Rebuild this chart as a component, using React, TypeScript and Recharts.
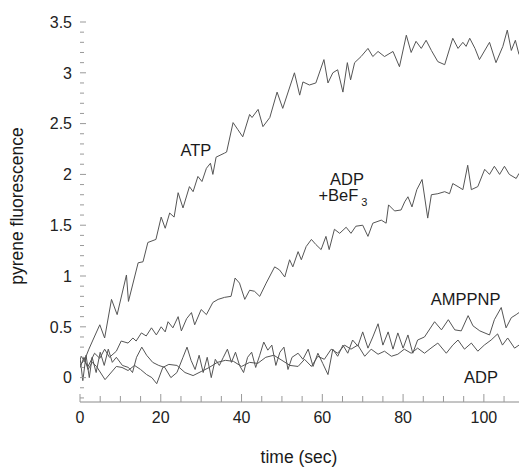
import React from "react";
import { LineChart, Line, XAxis, YAxis, ReferenceDot } from "recharts";

// readings taken off the trace: time (sec) and pyrene fluorescence
const atpTime = [0, 1.2, 2.2, 3.2, 4.9, 6.1, 7.8, 9.2, 11.5, 12.0, 14.4, 15.6, 16.8, 18.8, 20.1, 21.1, 22.2, 23.3, 24.3, 25.5, 27.1, 28.0, 29.2, 30.2, 31.3, 32.3, 32.9, 33.7, 35.8, 36.3, 37.9, 39.1, 40.3, 42.0, 42.6, 44.1, 45.3, 47.0, 48.8, 50.2, 53.1, 54.4, 55.2, 56.8, 58.4, 60.4, 61.4, 62.6, 63.8, 65.1, 66.2, 67.0, 68.0, 69.6, 71.3, 72.5, 73.8, 75.4, 77.5, 79.1, 80.8, 82.0, 83.2, 84.5, 85.7, 87.0, 88.6, 90.3, 92.3, 93.6, 94.8, 95.6, 96.5, 97.8, 98.9, 101.4, 103.0, 104.7, 105.8, 106.8, 107.8, 108.7];
const atpValue = [0.12, 0.18, 0.28, 0.37, 0.52, 0.39, 0.77, 0.62, 1.01, 0.75, 1.13, 1.14, 1.33, 1.36, 1.58, 1.47, 1.62, 1.58, 1.82, 1.67, 1.88, 1.83, 1.98, 1.93, 2.06, 2.11, 2.0, 2.17, 2.21, 2.22, 2.51, 2.44, 2.37, 2.59, 2.56, 2.64, 2.47, 2.56, 2.81, 2.65, 3.0, 2.78, 2.91, 2.88, 2.9, 3.13, 2.9, 3.0, 3.03, 2.81, 3.1, 2.93, 3.1, 3.16, 3.24, 3.16, 3.21, 3.16, 3.21, 3.06, 3.37, 3.2, 3.31, 3.24, 3.32, 3.22, 3.11, 3.08, 3.34, 3.24, 3.3, 3.26, 3.34, 3.24, 3.13, 3.3, 3.1, 3.26, 3.42, 3.22, 3.32, 3.18];

const befTime = [0, 0.3, 2.0, 3.6, 4.9, 6.1, 7.3, 9.0, 10.2, 11.9, 13.1, 13.9, 15.2, 16.4, 17.7, 18.9, 20.1, 21.1, 21.8, 23.0, 24.3, 25.1, 26.4, 27.6, 28.4, 30.0, 31.3, 32.9, 34.2, 35.8, 37.4, 38.4, 39.5, 40.8, 42.0, 43.2, 44.5, 46.1, 48.2, 49.4, 50.7, 51.9, 52.7, 54.0, 54.8, 56.0, 57.3, 58.4, 59.7, 60.9, 61.7, 63.0, 64.3, 65.9, 67.1, 68.3, 70.0, 71.3, 72.5, 74.6, 75.8, 76.4, 77.9, 79.5, 80.4, 81.2, 82.2, 83.4, 84.7, 86.1, 87.0, 88.6, 90.3, 91.5, 92.3, 93.6, 94.8, 96.0, 96.9, 98.5, 100.2, 101.4, 102.6, 103.9, 105.1, 106.3, 108.0, 108.7];
const befValue = [0.18, 0.21, 0.11, 0.24, 0.19, 0.28, 0.2, 0.26, 0.36, 0.34, 0.39, 0.36, 0.44, 0.41, 0.49, 0.42, 0.5, 0.45, 0.55, 0.49, 0.6, 0.46, 0.58, 0.64, 0.52, 0.67, 0.62, 0.74, 0.77, 0.79, 0.8, 0.98, 0.93, 0.77, 0.86, 0.85, 0.8, 0.93, 1.09, 1.06, 0.99, 1.16, 1.09, 1.24, 1.16, 1.29, 1.36, 1.31, 1.26, 1.39, 1.26, 1.46, 1.42, 1.48, 1.42, 1.49, 1.5, 1.39, 1.52, 1.55, 1.52, 1.7, 1.64, 1.65, 1.73, 1.78, 1.68, 1.85, 1.95, 1.57, 1.8, 1.81, 1.83, 1.81, 1.91, 1.88, 1.85, 2.09, 1.85, 1.88, 2.05, 2.0, 2.08, 2.0, 2.08, 2.0, 1.96, 2.01];

const amppnpTime = [0, 0.7, 1.5, 2.3, 3.0, 4.0, 5.0, 6.0, 7.0, 8.0, 9.0, 10.5, 12.0, 13.0, 14.0, 15.3, 16.5, 18.0, 19.5, 21.0, 22.5, 24.0, 25.5, 26.5, 27.5, 28.5, 29.5, 30.5, 31.5, 32.5, 33.5, 34.5, 35.5, 36.5, 37.5, 38.5, 39.5, 40.5, 41.5, 42.5, 43.5, 44.5, 45.5, 46.5, 47.5, 48.5, 49.5, 50.5, 51.5, 52.5, 54.0, 55.2, 56.5, 57.7, 58.9, 60.1, 61.4, 62.6, 63.8, 65.1, 66.3, 67.5, 68.8, 70.0, 71.3, 72.5, 73.8, 75.0, 76.3, 77.5, 78.7, 80.0, 81.2, 82.4, 83.6, 85.3, 87.8, 89.5, 91.2, 92.8, 94.4, 96.1, 97.3, 99.0, 101.4, 102.6, 104.3, 105.5, 106.8, 108.0, 108.7];
const amppnpValue = [0.2, -0.03, 0.22, 0.0, 0.2, 0.05, 0.25, 0.12, 0.28, 0.15, 0.2, 0.12, 0.1, 0.05, 0.2, 0.3, 0.22, 0.15, 0.12, 0.1, 0.0, 0.05, 0.2, 0.3, 0.17, 0.08, 0.22, 0.05, 0.2, 0.0, 0.18, 0.12, 0.2, 0.28, 0.15, 0.25, 0.12, 0.05, 0.2, 0.25, 0.1, 0.22, 0.35, 0.27, 0.32, 0.12, 0.25, 0.3, 0.08, 0.2, 0.24, 0.18, 0.28, 0.11, 0.24, 0.14, 0.03, 0.28, 0.21, 0.32, 0.24, 0.37, 0.31, 0.45, 0.29, 0.4, 0.53, 0.32, 0.45, 0.28, 0.44, 0.29, 0.42, 0.24, 0.37, 0.4, 0.55, 0.47, 0.57, 0.47, 0.46, 0.61, 0.51, 0.46, 0.42, 0.57, 0.69, 0.49, 0.59, 0.62, 0.64];

const adpTime = [0, 1.0, 2.0, 3.0, 4.1, 6.2, 9.0, 10.4, 11.9, 13.5, 15.0, 16.5, 17.8, 19.0, 20.5, 22.0, 24.0, 26.0, 28.0, 30.0, 32.0, 34.0, 36.0, 38.0, 40.0, 42.0, 44.0, 46.0, 48.0, 50.0, 52.0, 54.0, 55.6, 57.3, 58.9, 60.5, 62.2, 63.8, 65.5, 67.1, 68.8, 70.5, 72.1, 73.8, 75.4, 77.1, 78.7, 80.3, 82.0, 83.6, 85.3, 86.9, 88.6, 90.7, 92.3, 93.6, 95.2, 96.9, 98.5, 100.1, 101.8, 103.4, 104.6, 105.9, 107.6, 108.7];
const adpValue = [0.1, 0.2, 0.08, 0.15, 0.11, -0.02, 0.11, 0.1, 0.07, 0.12, 0.08, 0.03, 0.0, -0.06, 0.1, 0.13, 0.12, 0.05, 0.02, 0.06, 0.1, 0.15, 0.17, 0.16, 0.11, 0.15, 0.14, 0.2, 0.22, 0.17, 0.12, 0.11, 0.18, 0.11, 0.21, 0.18, 0.28, 0.24, 0.32, 0.28, 0.32, 0.21, 0.28, 0.23, 0.26, 0.21, 0.23, 0.28, 0.24, 0.29, 0.24, 0.29, 0.34, 0.24, 0.32, 0.37, 0.28, 0.34, 0.26, 0.32, 0.37, 0.43, 0.32, 0.39, 0.29, 0.32];

const xTicks = [0, 5, 10, 15, 20, 25, 30, 35, 40, 45, 50, 55, 60, 65, 70, 75, 80, 85, 90, 95, 100, 105];
const xLabels = [0, 20, 40, 60, 80, 100];
const yLabels = [0, 0.5, 1, 1.5, 2, 2.5, 3, 3.5];
const yTicks = Array.from({ length: 38 }, (_, i) => Math.round((i - 2) * 10) / 100 * 10 / 10);

const FONT = '"Liberation Sans", Arial, Helvetica, sans-serif';
const LINE = "#555";
const TICK = "#999";

const series = (t: number[], v: number[]) =>
  t.slice(0, Math.min(t.length, v.length)).map((time, i) => ({ time, value: v[i] }));

const isLabelY = (v: number) => yLabels.some((l) => Math.abs(l - v) < 1e-6);

function LeftTick({ x, y, payload }: any) {
  const major = isLabelY(payload.value);
  return (
    <g>
      <line x1={x + 8} x2={x + 8 + (major ? 6 : 4)} y1={y} y2={y} stroke={TICK} />
      {major && (
        <text x={x} y={y} dy="0.36em" textAnchor="end" fontSize={16} fill="#222" fontFamily={FONT}>
          {String(payload.value)}
        </text>
      )}
    </g>
  );
}

function RightTick({ x, y, payload }: any) {
  const major = isLabelY(payload.value);
  return <line x1={x - (major ? 6 : 4)} x2={x} y1={y} y2={y} stroke="#c8c8c8" />;
}

function BottomTick({ x, y, payload }: any) {
  const major = xLabels.includes(payload.value);
  return (
    <g>
      <line x1={x} x2={x} y1={y} y2={y - (major ? 8 : 6)} stroke={TICK} />
      {major && (
        <text x={x} y={y + 21} textAnchor="middle" fontSize={16} fill="#222" fontFamily={FONT}>
          {payload.value}
        </text>
      )}
    </g>
  );
}

function TopTick({ x, y }: any) {
  return <line x1={x} x2={x} y1={y} y2={y + 6} stroke="#c8c8c8" />;
}

const note = (text: string) => (p: any) => (
  <text x={p.cx} y={p.cy} dy="0.36em" textAnchor="middle" fontSize={16.5} fill="#1a1a1a" fontFamily={FONT}>
    {text}
  </text>
);

const befNote = (p: any) => (
  <text x={p.cx} y={p.cy} textAnchor="middle" fontSize={16.5} fill="#1a1a1a" fontFamily={FONT}>
    <tspan x={p.cx} dy="-0.1em">ADP</tspan>
    <tspan x={p.cx - 4} dy="1.0em">+BeF</tspan>
    <tspan dx={3} dy="0.4em" fontSize={11}>3</tspan>
  </text>
);

export default function App() {
  return (
    <div style={{ position: "absolute", left: 0, top: 0, width: 523, height: 468, background: "#fff" }}>
      <LineChart width={523} height={468} margin={{ top: 22, right: 0, bottom: 0, left: 0 }}>
        <XAxis
          xAxisId="b"
          dataKey="time"
          type="number"
          domain={[0, 108.7]}
          allowDataOverflow
          ticks={xTicks}
          interval={0}
          height={66}
          tickSize={0}
          tickMargin={0}
          tickLine={false}
          axisLine={{ stroke: "#8a8a8a" }}
          tick={<BottomTick />}
        />
        <XAxis
          xAxisId="t"
          orientation="top"
          dataKey="time"
          type="number"
          domain={[0, 108.7]}
          ticks={xTicks}
          interval={0}
          height={0}
          tickSize={0}
          tickMargin={0}
          tickLine={false}
          axisLine={false}
          tick={<TopTick />}
        />
        <YAxis
          yAxisId="l"
          type="number"
          domain={[-0.24, 3.5]}
          allowDataOverflow
          ticks={yTicks}
          interval={0}
          width={80}
          tickSize={0}
          tickMargin={8}
          tickLine={false}
          axisLine={false}
          tick={<LeftTick />}
        />
        <YAxis
          yAxisId="r"
          orientation="right"
          type="number"
          domain={[-0.24, 3.5]}
          ticks={yTicks}
          interval={0}
          width={4}
          tickSize={0}
          tickMargin={0}
          tickLine={false}
          axisLine={false}
          tick={<RightTick />}
        />
        <Line xAxisId="b" yAxisId="l" data={series(atpTime, atpValue)} dataKey="value" type="linear" stroke={LINE} strokeWidth={1} dot={false} isAnimationActive={false} />
        <Line xAxisId="b" yAxisId="l" data={series(befTime, befValue)} dataKey="value" type="linear" stroke={LINE} strokeWidth={1} dot={false} isAnimationActive={false} />
        <Line xAxisId="b" yAxisId="l" data={series(amppnpTime, amppnpValue)} dataKey="value" type="linear" stroke={LINE} strokeWidth={1} dot={false} isAnimationActive={false} />
        <Line xAxisId="b" yAxisId="l" data={series(adpTime, adpValue)} dataKey="value" type="linear" stroke={LINE} strokeWidth={1} dot={false} isAnimationActive={false} />
        <ReferenceDot xAxisId="b" yAxisId="l" x={28.7} y={2.24} r={0} shape={note("ATP")} />
        <ReferenceDot xAxisId="b" yAxisId="l" x={66.1} y={1.88} r={0} shape={befNote} />
        <ReferenceDot xAxisId="b" yAxisId="l" x={95.5} y={0.77} r={0} shape={note("AMPPNP")} />
        <ReferenceDot xAxisId="b" yAxisId="l" x={99.3} y={0.01} r={0} shape={note("ADP")} />
      </LineChart>
      <svg width={523} height={468} style={{ position: "absolute", left: 0, top: 0, pointerEvents: "none" }}>
        <text x={299} y={463} textAnchor="middle" fontSize={17.5} fill="#1a1a1a" fontFamily={FONT}>
          time (sec)
        </text>
        <text transform="translate(23,206) rotate(-90)" textAnchor="middle" fontSize={17.5} fill="#1a1a1a" fontFamily={FONT}>
          pyrene fluorescence
        </text>
      </svg>
    </div>
  );
}
